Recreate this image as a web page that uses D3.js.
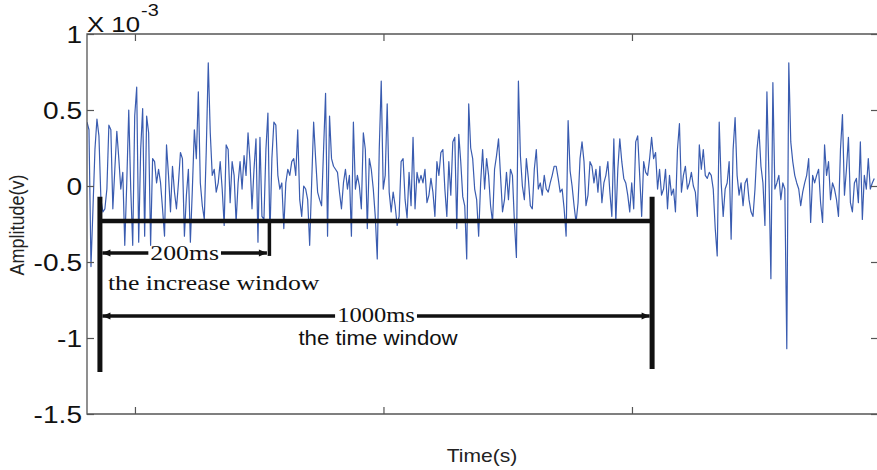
<!DOCTYPE html>
<html>
<head>
<meta charset="utf-8">
<script src="https://cdn.jsdelivr.net/npm/d3@7"></script>
<style>
  body { margin: 0; background: #fff; }
  svg { display: block; }
</style>
</head>
<body>
<svg id="chart" width="877" height="470"></svg>
<script>
// ---- signal: amplitude in units of 1e-3 V, sampled every 8 ms ----
const startTime = 0.807;   // s
const sampleStep = 0.008;  // s
const amplitude = [
  0.42, 0.37, -0.53, -0.15, 0.24, 0.44, 0.33, -0.09, -0.17, -0.15,
  -0.02, 0.40, 0.37, -0.15, 0.11, 0.36, 0.18, -0.02, 0.09, -0.39,
  0.02, 0.50, -0.02, -0.39, 0.46, 0.65, -0.37, 0.24, 0.51, -0.33,
  0.46, 0.35, -0.39, 0.18, 0.16, 0.02, 0.11, 0.02, -0.15, -0.33,
  0.27, 0.07, -0.17, 0.13, -0.04, -0.15, 0.02, 0.22, 0.18, -0.33,
  -0.06, 0.11, -0.37, -0.02, 0.37, 0.18, 0.62, 0.02, -0.13, -0.22,
  0.24, 0.81, 0.35, 0.07, 0.11, -0.04, 0.02, 0.16, -0.02, -0.26,
  0.27, 0.24, -0.11, 0.16, 0.07, -0.24, 0.02, 0.16, -0.02,
  0.20, 0.07, 0.35, 0.16, -0.15, 0.11, 0.31, -0.37, 0.32, -0.20,
  -0.22, 0.24, 0.48, -0.33, 0.18, 0.42, 0.40, 0.07, -0.02, 0.02,
  -0.28, 0.02, 0.11, 0.07, 0.16, 0.18, 0.07, 0.37, -0.09, -0.20,
  0.00, -0.02, -0.09, -0.39, 0.02, 0.42, 0.18, -0.04, -0.09, -0.13,
  0.24, 0.61, -0.33, 0.46, 0.18, 0.13, 0.11, 0.09, -0.04, -0.15,
  0.02, 0.11, -0.02, 0.07, -0.33, 0.42, -0.02, 0.07, 0.00, -0.15,
  0.35, 0.24, -0.28, 0.18, 0.11, -0.02, -0.20, -0.48, 0.24, 0.69,
  -0.02, 0.07, 0.54, -0.04, -0.17, -0.04, -0.13, -0.26, -0.20, 0.16,
  0.18, -0.09, -0.21, 0.09, -0.13, 0.32, -0.15, 0.09, 0.02, 0.07,
  0.02, 0.11, -0.11, -0.06, 0.05, -0.04, -0.20, 0.16, 0.07, 0.22,
  0.24, -0.02, -0.20, 0.16, -0.06, 0.29, 0.32, -0.28, 0.34, 0.16,
  -0.07, -0.13, -0.48, 0.54, 0.25, 0.18, -0.02, -0.09, -0.33, 0.02,
  0.24, -0.02, 0.18, 0.07, -0.13, -0.24, 0.11, 0.20, 0.31, 0.07,
  -0.17, -0.09, 0.09, -0.09, 0.11, 0.07, -0.24, -0.47, 0.69, 0.20,
  0.00, -0.09, 0.18, 0.05, -0.13, -0.15, 0.11, 0.24, -0.02, 0.02,
  -0.06, 0.07, -0.02, -0.04, 0.02, 0.07, 0.13, 0.13, 0.05, -0.04,
  -0.02, -0.15, -0.33, 0.43, 0.10, 0.00, -0.13, -0.24, -0.11, 0.18,
  0.29, 0.16, -0.13, -0.06, 0.16, 0.13, 0.02, 0.11, -0.04, 0.13,
  -0.11, 0.02, 0.07, 0.16, -0.04, -0.20, 0.31, -0.24, 0.11, 0.31,
  0.16, 0.05, 0.02, -0.06, -0.17, 0.02, -0.15, 0.29, 0.33, 0.07,
  -0.20, 0.16, 0.09, 0.07, 0.18, 0.32, 0.18, 0.22, -0.02, 0.11,
  -0.06, -0.02, 0.11, -0.15, 0.07, -0.06, -0.02, -0.17, 0.24, 0.41,
  -0.04, 0.07, 0.13, -0.02, 0.02, 0.09, 0.00, -0.04, -0.20, 0.27,
  0.11, 0.24, 0.07, 0.05, 0.09, 0.07, -0.02, -0.28, -0.46, 0.42,
  0.02, -0.20, -0.02, 0.02, 0.16, -0.35, 0.24, 0.45, 0.07, -0.06,
  0.02, -0.13, 0.02, 0.05, -0.09, -0.17, -0.20, -0.02, 0.24, 0.37,
  0.13, 0.02, -0.26, 0.62, 0.07, -0.61, 0.68, -0.02, 0.02, 0.07,
  -0.09, 0.02, -0.02, -1.07, 0.81, 0.29, 0.16, 0.07, 0.02, -0.02,
  -0.13, -0.04, 0.02, 0.07, 0.18, -0.24, 0.07, 0.02, 0.07, 0.11,
  -0.11, -0.24, 0.27, 0.07, 0.16, -0.09, 0.02, -0.02, -0.09, -0.20,
  0.24, 0.47, -0.06, 0.11, 0.32, -0.11, -0.17, 0.02, 0.05, -0.11,
  0.29, -0.22, 0.07, -0.02, 0.18, -0.02, 0.02, 0.05
];

// ---- axes ----
const timeDomain = [0.807, 3.990];
const ampDomain = [-1.5, 1];
const yTickValues = [-1.5, -1, -0.5, 0, 0.5, 1];
const yTickLabels = ["-1.5", "-1", "-0.5", "0", "0.5", "1"];
const xTickValues = [1, 2, 3];

// ---- window annotations (time in s, level in 1e-3 V) ----
const windowStart = 0.859;
const windowEnd = 3.081;
const increaseEnd = 1.541;
const barTop = -0.07;
const leftBarBottom = -1.224;
const rightBarBottom = -1.204;
const spanLevel = -0.23;
const increaseLevel = -0.441;
const increaseTickBottom = -0.46;
const timeLevel = -0.855;
const increaseLabel = "200ms";
const increaseCaption = "the increase window";
const timeLabel = "1000ms";
const timeCaption = "the time window";

const stretch = 1.17;
const sans = "'Liberation Sans', Arial, Helvetica, sans-serif";
const serif = "'Liberation Serif', 'Times New Roman', serif";

const svg = d3.select("#chart");
const plot = { left: 87, right: 878, top: 34, bottom: 414 };

const x = d3.scaleLinear().domain(timeDomain).range([plot.left, plot.right]);
const y = d3.scaleLinear().domain(ampDomain).range([plot.bottom, plot.top]);

svg.append("defs").append("clipPath").attr("id", "plotArea")
  .append("rect")
  .attr("x", plot.left).attr("y", plot.top)
  .attr("width", plot.right - plot.left).attr("height", plot.bottom - plot.top);

// signal trace
const line = d3.line()
  .x((d, i) => x(startTime + i * sampleStep))
  .y(d => y(d));

svg.append("path")
  .datum(amplitude)
  .attr("clip-path", "url(#plotArea)")
  .attr("fill", "none")
  .attr("stroke", "#3a5cb0")
  .attr("stroke-width", 1.2)
  .attr("stroke-linejoin", "round")
  .attr("d", line);

// frame and inward ticks
const frameColor = "#555";
function styleAxis(g) {
  g.select(".domain").remove();
  g.selectAll(".tick line").attr("stroke", frameColor).attr("stroke-width", 1.2);
}

const leftAxis = svg.append("g")
  .attr("transform", `translate(${plot.left},0)`)
  .call(d3.axisLeft(y).tickValues(yTickValues)
    .tickFormat((d, i) => yTickLabels[i])
    .tickSizeInner(-7).tickSizeOuter(0).tickPadding(5));
styleAxis(leftAxis);
leftAxis.selectAll(".tick text")
  .attr("x", null).attr("dy", "0.36em")
  .attr("transform", `translate(-5,0) scale(${stretch},1)`)
  .attr("fill", "#111")
  .style("font-family", sans).style("font-size", "24px");

const rightAxis = svg.append("g")
  .attr("transform", `translate(${plot.right},0)`)
  .call(d3.axisRight(y).tickValues(yTickValues).tickFormat("")
    .tickSizeInner(-7).tickSizeOuter(0));
styleAxis(rightAxis);

const bottomAxis = svg.append("g")
  .attr("transform", `translate(0,${plot.bottom})`)
  .call(d3.axisBottom(x).tickValues(xTickValues).tickFormat("")
    .tickSizeInner(-7).tickSizeOuter(0));
styleAxis(bottomAxis);

const topAxis = svg.append("g")
  .attr("transform", `translate(0,${plot.top})`)
  .call(d3.axisTop(x).tickValues(xTickValues).tickFormat("")
    .tickSizeInner(-7).tickSizeOuter(0));
styleAxis(topAxis);

svg.append("path")
  .attr("d", `M${plot.left},${plot.bottom}V${plot.top}H${plot.right}V${plot.bottom}Z`)
  .attr("fill", "none")
  .attr("stroke", frameColor)
  .attr("stroke-width", 1.3);

// exponent label
const expo = svg.append("text")
  .attr("transform", `translate(${plot.left},32) scale(${stretch},1)`)
  .attr("fill", "#111")
  .style("font-family", sans).style("font-size", "22px");
expo.append("tspan").text("X 10");
expo.append("tspan").attr("dy", -16).attr("dx", 1).style("font-size", "17px").text("-3");

// axis titles
svg.append("text")
  .attr("transform", `translate(24,225) scale(${stretch},1) rotate(-90)`)
  .attr("text-anchor", "middle")
  .attr("fill", "#222")
  .style("font-family", sans).style("font-size", "18px")
  .text("Amplitude(v)");

svg.append("text")
  .attr("transform", `translate(482,462) scale(${stretch},1)`)
  .attr("text-anchor", "middle")
  .attr("fill", "#222")
  .style("font-family", sans).style("font-size", "18px")
  .text("Time(s)");

// ---- window annotations ----
const ann = svg.append("g").attr("fill", "#111").attr("stroke", "#111");

function vbar(t, top, bottom, w) {
  ann.append("line")
    .attr("x1", x(t)).attr("x2", x(t))
    .attr("y1", y(top)).attr("y2", y(bottom))
    .attr("stroke-width", w);
}
function hbar(t1, t2, level, w) {
  ann.append("line")
    .attr("x1", x(t1)).attr("x2", x(t2))
    .attr("y1", y(level)).attr("y2", y(level))
    .attr("stroke-width", w);
}
function arrowHead(px, py, dir) {
  const len = 8, half = 3.5;
  ann.append("path")
    .attr("stroke", "none")
    .attr("d", `M${px},${py}L${px - dir * len},${py - half}L${px - dir * len},${py + half}Z`);
}
function labelledArrow(t1, t2, level, label, fontSize) {
  const xa = x(t1) + 2.5, xb = x(t2) - 2.5, yy = y(level);
  const mid = (x(t1) + x(t2)) / 2;
  const txt = ann.append("text")
    .attr("stroke", "none")
    .attr("text-anchor", "middle")
    .attr("transform", `translate(${mid},${yy + 6.5}) scale(${stretch},1)`)
    .style("font-family", serif).style("font-size", fontSize + "px")
    .text(label);
  const w = txt.node().getBBox().width * stretch;
  ann.append("line").attr("x1", xa).attr("x2", mid - w / 2 - 2)
    .attr("y1", yy).attr("y2", yy).attr("stroke-width", 3.5);
  ann.append("line").attr("x1", mid + w / 2 + 2).attr("x2", xb)
    .attr("y1", yy).attr("y2", yy).attr("stroke-width", 3.5);
  arrowHead(xa, yy, -1);
  arrowHead(xb, yy, 1);
}

vbar(windowStart, barTop, leftBarBottom, 5);
vbar(windowEnd, barTop, rightBarBottom, 5);
hbar(windowStart, windowEnd, spanLevel, 4.5);
vbar(increaseEnd, spanLevel, increaseTickBottom, 3.5);

labelledArrow(windowStart, increaseEnd, increaseLevel, increaseLabel, 22);
labelledArrow(windowStart, windowEnd, timeLevel, timeLabel, 21);

ann.append("text")
  .attr("stroke", "none")
  .attr("transform", `translate(${x(windowStart) + 8},${y(increaseLevel) + 37}) scale(${stretch},1)`)
  .style("font-family", serif).style("font-size", "22px")
  .text(increaseCaption);

ann.append("text")
  .attr("stroke", "none")
  .attr("text-anchor", "middle")
  .attr("transform", `translate(${(x(windowStart) + x(windowEnd)) / 2 + 2},${y(timeLevel) + 29}) scale(${stretch * 0.95},1)`)
  .style("font-family", sans).style("font-size", "20px")
  .text(timeCaption);
</script>
</body>
</html>
